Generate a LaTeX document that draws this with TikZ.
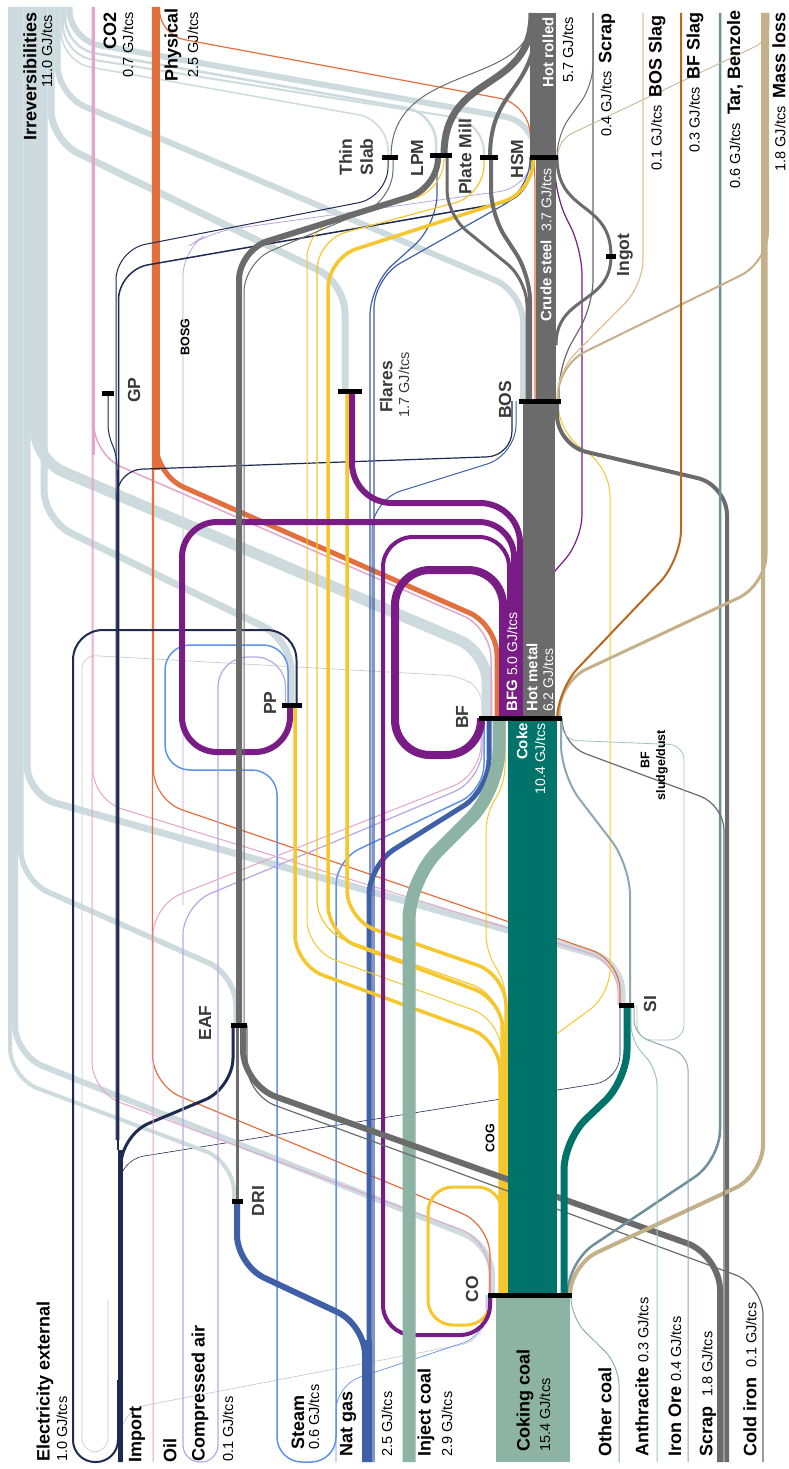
\documentclass[tikz,border=0pt]{standalone}
\usepackage{fontspec}
\setmainfont{Liberation Sans}
\definecolor{irr}{HTML}{CDDBDF}
\definecolor{phys}{HTML}{E2703F}
\definecolor{cotwo}{HTML}{E3A5CC}
\definecolor{navy}{HTML}{1E2A50}
\definecolor{steel}{HTML}{6B6B6B}
\definecolor{bfg}{HTML}{7A1C86}
\definecolor{cog}{HTML}{F5C72C}
\definecolor{ngas}{HTML}{3F5FA7}
\definecolor{steam}{HTML}{5E93E6}
\definecolor{cair}{HTML}{B8A7E3}
\definecolor{coal}{HTML}{8CB3A3}
\definecolor{coke}{HTML}{00736B}
\definecolor{mloss}{HTML}{C4B089}
\definecolor{bfslag}{HTML}{B8691E}
\definecolor{bosslag}{HTML}{DDC193}
\definecolor{tar}{HTML}{6F8F9A}
\definecolor{sinter}{HTML}{8FA7B2}
\definecolor{ocoal}{HTML}{9FC6BB}
\definecolor{lbl}{HTML}{3A3A3A}
\newcommand{\myB}{\fontsize{18}{20}\selectfont\bfseries}
\newcommand{\myV}{\fontsize{14.5}{17}\selectfont\mdseries}
\newcommand{\myP}{\fontsize{17.5}{21}\selectfont\bfseries}
\newcommand{\myW}{\fontsize{15}{17}\selectfont\bfseries}
\newcommand{\myWv}{\fontsize{14}{16}\selectfont\mdseries}
\newcommand{\myC}{\fontsize{12.5}{14}\selectfont\bfseries}
\begin{document}
\begin{tikzpicture}[x=1pt,y=-1pt,
  fl/.style={rounded corners=30pt, line join=round},
  procbar/.style={fill=black, draw=none, inner sep=0pt, minimum height=5pt, minimum width=#1},
  lab/.style={rotate=90, inner sep=0pt},
  plab/.style={rotate=90, inner sep=0pt, text=lbl, font=\myP, align=center},
  faint/.style={draw=gray!45, line width=0.6pt}]
\fill[white] (0,0) rectangle (788,1469);
\useasboundingbox (0,0) rectangle (788,1469);
% ---------- process coordinates
\coordinate (TS) at (390,157);
\coordinate (LPM) at (441,155);
\coordinate (PM) at (489,157);
\coordinate (HSM) at (544,157);
\coordinate (ING) at (611,256);
\coordinate (GP) at (108,393);
\coordinate (FL) at (350,391);
\coordinate (BOS) at (540,401);
\coordinate (PP) at (292,705);
\coordinate (BF) at (520,718);
\coordinate (SI) at (626,1005);
\coordinate (EAF) at (239,1025);
\coordinate (DRI) at (237,1201);
\coordinate (CO) at (530,1295);
% outputs (top)
\coordinate (IRR) at (40,7);
\coordinate (CDO) at (93,7);
\coordinate (PHY) at (156,7);
\coordinate (HR) at (543,13);
\coordinate (SCT) at (593,13);
\coordinate (BOSS) at (643,13);
\coordinate (BFS) at (681,13);
\coordinate (TAR) at (720,13);
\coordinate (ML) at (765,13);
% inputs (bottom)
\coordinate (ELX) at (73,1462);
\coordinate (IMP) at (120,1462);
\coordinate (OIL) at (153,1462);
\coordinate (STM) at (306,1462);
\coordinate (NG) at (367,1462);
\coordinate (INJ) at (409,1462);
\coordinate (OC) at (619,1462);
\coordinate (ANT) at (657,1462);
\coordinate (ORE) at (688,1462);
\coordinate (SCB) at (724,1462);
\coordinate (CI) at (763,1462);

% ---------- faint lines
\draw[fl, faint, rounded corners=14pt] ([xshift=-38pt]BF) -- (482,690) -- (460,676) -- (82,655) -- (82,1452) -- (108,1452) -- (108,1300);
\draw[fl, navy, line width=0.6pt, rounded corners=25pt] (119,1462) -- (119,1160) -- (620,1080) -- ([xshift=-6pt]SI);
\draw[fl, faint, rounded corners=25pt] (121,1462) -- (121,1410) -- (486,1340) -- ([xshift=-44pt]CO);
\draw[fl, steam, line width=0.7pt, rounded corners=25pt] (336,1462) -- (336,1385) -- (487,1335) -- ([xshift=-43pt]CO);
\draw[fl, cair, line width=0.8pt, rounded corners=25pt] (183,905) -- (183,250) -- (210,232) -- (525,188) -- ([xshift=-10pt]HSM);

% ---------- irreversibilities
\begin{scope}[irr]
\draw[fl, line width=6pt] ([xshift=29.5pt]IRR) -- (69.5,40) -- (535,122) -- ([xshift=-9pt]HSM);
\draw[fl, line width=2.5pt] ([xshift=25.25pt]IRR) -- (65.25,48) -- (436,113) -- ([xshift=-5pt]LPM);
\draw[fl, line width=2pt] ([xshift=23pt]IRR) -- (63,55) -- (484,122) -- ([xshift=-5pt]PM);
\draw[fl, line width=1.5pt] ([xshift=21.25pt]IRR) -- (61.25,62) -- (388,120) -- ([xshift=-2pt]TS);
\draw[fl, line width=6pt] ([xshift=17.5pt]IRR) -- (57.5,95) -- (523,292) -- ([xshift=-17pt]BOS);
\draw[fl, line width=7pt] ([xshift=11pt]IRR) -- (51,140) -- (345,283) -- ([xshift=-5pt]FL);
\draw[fl, line width=7pt] ([xshift=4pt]IRR) -- (44,520) -- (291,640) -- ([xshift=-1pt]PP);
\draw[fl, line width=11pt] ([xshift=-4.5pt]IRR) -- (35.5,460) -- (487,652) -- ([xshift=-33pt]BF);
\draw[fl, line width=7pt] ([xshift=-13pt]IRR) -- (27,795) -- (622,962) -- ([xshift=-4pt]SI);
\draw[fl, line width=5.5pt] ([xshift=-19.25pt]IRR) -- (20.75,880) -- (236,975) -- ([xshift=-3pt]EAF);
\draw[fl, line width=6pt] ([xshift=-25pt]IRR) -- (15,1055) -- (492,1245) -- ([xshift=-38pt]CO);
\draw[fl, line width=4pt] ([xshift=-30pt]IRR) -- (10,1078) -- (234,1162) -- ([xshift=-3pt]DRI);
\end{scope}

% ---------- CO2
\draw[cotwo, line width=3pt] (CDO) -- (93,455);
\draw[fl, cotwo, line width=1.5pt] ([xshift=1pt]CDO) -- (94,455) -- (491,628) -- ([xshift=-29pt]BF);
\draw[fl, cotwo, line width=1pt] (CDO) -- (93,800) -- (618,962) -- ([xshift=-8pt]SI);
\draw[fl, cotwo, line width=1pt] ([xshift=-1pt]CDO) -- (92,1092) -- (489,1240) -- ([xshift=-41pt]CO);

% ---------- Physical
\draw[phys, line width=8pt] (PHY) -- (156,470);
\draw[fl, phys, line width=1.2pt, rounded corners=25pt] ([xshift=3.5pt]PHY) -- (159.5,35) -- (525,103) -- (535,160) -- ([xshift=-5pt]BOS);
\draw[fl, phys, line width=5pt] (PHY) -- (156,475) -- (497,625) -- ([xshift=-23pt]BF);
\draw[fl, phys, line width=1.2pt] ([xshift=-2.5pt]PHY) -- (153.5,800) -- (620,960) -- ([xshift=-6pt]SI);
\draw[fl, phys, line width=1.2pt] ([xshift=-3.5pt]PHY) -- (152.5,1085) -- (490,1225) -- ([xshift=-40pt]CO);

% ---------- Electricity / import
\draw[fl, navy, line width=2pt] ([xshift=4.5pt]PP) -- (296.5,630) -- (73,630) -- (73,1400) [rounded corners=22pt] -- (ELX) -- (118,1462) -- (118,1380);
\draw[navy, line width=5pt] (IMP) -- (120,1150);
\draw[navy, line width=2pt] (118,1150) -- (118,470);
\draw[fl, navy, line width=3pt] ([xshift=1pt]IMP) -- (121,1135) -- (233,1088) -- ([xshift=-6pt]EAF);
\draw[fl, navy, line width=1.2pt, rounded corners=25pt] (117,1140) -- (117,470) -- (512,456) -- ([xshift=-28pt]BOS);
\draw[fl, navy, line width=1pt] (116,1140) -- (116,250) -- (388,197) -- ([xshift=-2pt]TS);
\draw[fl, navy, line width=1.5pt] (118.5,1140) -- (118.5,270) -- (531,198) -- ([xshift=-13pt]HSM);
\draw[navy, line width=1pt, rounded corners=10pt] (117,475) -- (117,455) -- (108,435) -- (GP);

% ---------- Steam
\draw[fl, steam, line width=1.5pt, rounded corners=25pt] ([xshift=-4pt]PP) -- (288,645) -- (165,645) -- (165,770) -- (277,770) -- (277,1462) -- (336,1462) -- (336,860) -- (484,790) -- ([xshift=-36pt]BF);

% ---------- Compressed air and oil
\draw[fl, cair, line width=1.2pt] ([xshift=-6.5pt]PP) -- (285.5,657) -- (218,657) -- (218,1400) [rounded corners=17pt] -- (218,1462) -- (183,1462) -- (183,1400) [rounded corners=30pt] -- (183,905) -- (482,780) -- ([xshift=-38pt]BF);
\draw[fl, cotwo, line width=1pt] (OIL) -- (153,905) -- (481,775) -- ([xshift=-39pt]BF);

% ---------- Natural gas
\draw[ngas, line width=10pt] (NG) -- (367,1340);
\draw[fl, ngas, line width=6pt] ([xshift=-2pt]NG) -- (365,1325) -- (237,1265) -- (DRI);
\draw[fl, ngas, line width=5pt] ([xshift=2pt]NG) -- (369,865) -- (489,790) -- ([xshift=-31pt]BF);
\draw[fl, ngas, line width=1.2pt] ([xshift=3pt]NG) -- (370,285) -- (437,225) -- ([xshift=-4pt]LPM);
\draw[fl, ngas, line width=1.2pt] ([xshift=7pt]NG) -- (374,278) -- (530,190) -- ([xshift=-14pt]HSM);
\draw[fl, ngas, line width=1pt] ([xshift=5pt]NG) -- (372,500) -- (516,455) -- ([xshift=-24pt]BOS);

% ---------- COG
\draw[fl, cog, line width=3.5pt] ([xshift=-3pt]FL) -- (347,920) -- (506,975) -- (506,1295);
\draw[fl, cog, line width=3.5pt] ([xshift=-11pt]HSM) -- (533,192) -- (328,258) -- (328,935) -- (503,1000) -- (503,1295);
\draw[fl, cog, line width=1.2pt] ([xshift=-5pt]PM) -- (484,195) -- (317,240) -- (317,930) -- (501,995) -- (501,1295);
\draw[fl, cog, line width=1pt] ([xshift=3pt]LPM) -- (444,190) -- (307,228) -- (307,950) -- (501,1020) -- (501,1295);
\draw[fl, cog, line width=3.5pt] ([xshift=3pt]PP) -- (295,965) -- (500,1040) -- (500,1295);
\draw[fl, cog, line width=1pt, rounded corners=15pt] ([xshift=-15pt]BF) -- (505,782) -- (486,815) -- (486,950) -- (506,985) -- (506,1295);
\draw[fl, cog, line width=3pt, rounded corners=25pt] (502,1295) -- (502,1187) -- (428,1187) -- (428,1325) -- (491,1325) -- ([xshift=-39pt]CO);
\draw[fl, cog, line width=1pt, rounded corners=25pt] (507,1100) -- (507,1070) -- (610,995) -- (610,470) -- (558,430) -- ([xshift=18pt]BOS);
\draw[cog, line width=9pt] ([xshift=-26.5pt]CO) -- (503.5,1100);

% ---------- BFG
\draw[fl, bfg, line width=1.2pt, rounded corners=25pt] ([xshift=1pt]BF) -- (521,610) -- (582,540) -- (582,250) -- (555,195) -- ([xshift=11pt]HSM);
\draw[fl, bfg, line width=6pt, rounded corners=40pt] ([xshift=2pt]FL) -- (352,503) -- (520,503) -- (BF);
\draw[fl, bfg, line width=6pt, rounded corners=35pt] ([xshift=-2pt]PP) -- (290,752) -- (182,752) -- (182,522) -- (514,522) -- ([xshift=-6pt]BF);
\draw[fl, bfg, line width=4pt] ([xshift=-11pt]BF) -- (509,537) -- (383,537) -- (383,1335) -- (490,1335) -- ([xshift=-40pt]CO);
\draw[fl, bfg, line width=8pt, rounded corners=35pt] ([xshift=-17pt]BF) -- (503,570) -- (395,570) -- (395,755) -- (481,755) -- ([xshift=-39pt]BF);

% ---------- Inject coal
\draw[fl, coal, line width=13pt, rounded corners=40pt] (INJ) -- (409,880) -- (499,790) -- ([xshift=-21pt]BF);

% ---------- steel flows
\draw[fl, steel, line width=6pt] (EAF) -- (239,250) -- (438,188) -- ([xshift=-3pt]LPM);
\draw[fl, steel, line width=1pt] ([xshift=3pt]TS) -- (393,200) -- (244,262) -- ([xshift=5pt]EAF);
\draw[fl, steel, line width=6pt, rounded corners=35pt] ([xshift=4pt]EAF) -- (243,1085) -- (720,1255) -- ([xshift=-4pt]SCB);
\draw[fl, steel, line width=4pt] ([xshift=17pt]BOS) -- (557,445) -- (727,485) -- ([xshift=3pt]SCB);
\draw[fl, steel, line width=1.2pt] ([xshift=8pt]EAF) -- (247,1095) -- (763,1285) -- (CI);
\draw[steel, line width=3pt] (DRI) -- ([xshift=-2pt]EAF);
\draw[steel, line width=7pt] ([xshift=3pt]LPM) .. controls (444,70) and (532,95) .. (532,13);
\draw[steel, line width=4pt] ([xshift=1pt]PM) .. controls (490,85) and (537,95) .. (537,13);
\draw[steel, line width=1pt] ([xshift=1pt]TS) .. controls (391,60) and (533,90) .. (533,13);
\draw[fl, steel, line width=4pt, rounded corners=25pt] ([xshift=-10pt]BOS) -- (530,275) -- (491,215) -- ([xshift=2pt]PM);
\draw[fl, steel, line width=3pt, rounded corners=25pt] ([xshift=-13pt]BOS) -- (527,280) -- (447,215) -- ([xshift=6pt]LPM);
\draw[steel, line width=3pt] (556,345) .. controls (556,295) and (611,305) .. (ING);
\draw[steel, line width=3pt] (ING) .. controls (611,200) and (557,215) .. ([xshift=13pt]HSM);
\draw[fl, steel, line width=1.2pt, rounded corners=25pt] ([xshift=19pt]BOS) -- (559,365) -- (593,305) -- (SCT);
\draw[fl, steel, line width=1pt, rounded corners=20pt] ([xshift=13pt]HSM) -- (557,135) -- (593,85) -- (SCT);
\draw[steel, line width=32pt] ([xshift=19pt]BF) -- ([xshift=-1pt]BOS);
\draw[steel, line width=20pt] ([xshift=6pt]BOS) -- ([xshift=2pt]HSM);
\draw[steel, line width=26pt] ([xshift=-1pt]HSM) -- (HR);

% ---------- right hand flows
\draw[fl, tar, line width=2.5pt] ([xshift=38pt]CO) -- (568,1262) -- (720,1160) -- (TAR);
\draw[fl, mloss, line width=4pt] ([xshift=40pt]CO) -- (570,1265) -- (763,1175) -- ([xshift=-2pt]ML);
\draw[fl, mloss, line width=3pt] ([xshift=39pt]BF) -- (559,682) -- (766,585) -- ([xshift=1pt]ML);
\draw[fl, mloss, line width=2pt] ([xshift=18pt]BOS) -- (558,365) -- (768,262) -- ([xshift=3pt]ML);
\draw[fl, mloss, line width=0.8pt, rounded corners=15pt] ([xshift=14pt]HSM) -- (558,140) -- (769,40) -- ([xshift=4pt]ML);
\draw[fl, bfslag, line width=2pt] ([xshift=37pt]BF) -- (557,690) -- (681,560) -- (BFS);
\draw[fl, bosslag, line width=1.2pt, rounded corners=25pt] ([xshift=17pt]BOS) -- (557,372) -- (643,285) -- (BOSS);
\draw[fl, sinter, line width=2pt] ([xshift=4pt]SI) -- (630,865) -- (561,775) -- ([xshift=41pt]BF);
\draw[fl, steel, line width=1.2pt, rounded corners=25pt] ([xshift=42pt]BF) -- (562,745) -- (724,805) -- (SCB);
\draw[fl, ocoal, line width=1pt, rounded corners=15pt] (ANT) -- (657,1070) -- (631,1040) -- ([xshift=5pt]SI);
\draw[fl, sinter, line width=1pt, rounded corners=15pt] (ORE) -- (688,1055) -- (634,1035) -- ([xshift=8pt]SI);
\draw[fl, coal, line width=1pt, rounded corners=20pt] (OC) -- (619,1365) -- (571,1318) -- ([xshift=41pt]CO);
\draw[fl, ocoal, line width=0.8pt, rounded corners=15pt] ([xshift=42pt]BF) -- (562,740) -- (684,745) -- (684,1040) -- (637,1040) -- ([xshift=11pt]SI);
\draw[fl, coke, line width=7pt] ([xshift=34pt]CO) -- (564,1140) -- (627,1080) -- ([xshift=1pt]SI);

% ---------- big bands
\fill[coke] (508,720) rectangle (557,1297);
\fill[coal] (496,1297) rectangle (570,1462);

% ---------- process bars
\node[procbar=16pt] (TSb) at (TS) {};
\node[procbar=22pt] (LPMb) at (LPM) {};
\node[procbar=18pt] (PMb) at (PM) {};
\node[procbar=28pt] (HSMb) at (HSM) {};
\node[procbar=10pt] (INGb) at (ING) {};
\node[procbar=12pt] (GPb) at (GP) {};
\node[procbar=24pt] (FLb) at (FL) {};
\node[procbar=42pt] (BOSb) at (BOS) {};
\node[procbar=20pt] (PPb) at (PP) {};
\node[procbar=83pt] (BFb) at (BF) {};
\node[procbar=15pt] (SIb) at (SI) {};
\node[procbar=16pt] (EAFb) at (EAF) {};
\node[procbar=11pt] (DRIb) at (DRI) {};
\node[procbar=84pt] (COb) at (CO) {};

% ---------- top labels
\node[lab, anchor=east] (tIrr) at (30,12) {\myB Irreversibilities};
\node[lab, anchor=east] (tIrrv) at (47,15) {\myV 11.0 GJ/tcs};
\node[lab, anchor=east] (tCO2) at (110,12) {\myB CO2};
\node[lab, anchor=east] (tCO2v) at (128,12) {\myV 0.7 GJ/tcs};
\node[lab, anchor=east] (tPhy) at (173,8) {\myB Physical};
\node[lab, anchor=east] (tPhyv) at (193,12) {\myV 2.5 GJ/tcs};
\node[lab, anchor=east, text=white] (tHR) at (548,17) {\myW Hot rolled};
\node[lab, anchor=east] (tHRv) at (568,17) {\myV 5.7 GJ/tcs};
\node[lab, anchor=east] (tScr) at (607,13) {\myV 0.4 GJ/tcs\ \ \myB Scrap};
\node[lab, anchor=east] (tBOSS) at (657,15) {\myV 0.1 GJ/tcs\ \ \myB BOS Slag};
\node[lab, anchor=east] (tBFS) at (695,12) {\myV 0.3 GJ/tcs\ \ \myB BF Slag};
\node[lab, anchor=east] (tTar) at (735,10) {\myV 0.6 GJ/tcs\ \ \myB Tar, Benzole};
\node[lab, anchor=east] (tML) at (779,12) {\myV 1.8 GJ/tcs\ \ \myB Mass loss};

% ---------- bottom labels
\node[lab, anchor=west] (bEl) at (45,1462) {\myB Electricity external};
\node[lab, anchor=west] (bElv) at (62,1462) {\myV 1.0 GJ/tcs};
\node[lab, anchor=west] (bImp) at (137,1463) {\myB Import};
\node[lab, anchor=west] (bOil) at (170,1463) {\myB Oil};
\node[lab, anchor=west] (bCA) at (200,1462) {\myB Compressed air};
\node[lab, anchor=west] (bCAv) at (228,1462) {\myV 0.1 GJ/tcs};
\node[lab, anchor=west] (bSt) at (298,1450) {\myB Steam};
\node[lab, anchor=west] (bStv) at (314,1450) {\myV 0.6 GJ/tcs};
\node[lab, anchor=west] (bNG) at (348,1457) {\myB Nat gas};
\node[lab, anchor=west] (bNGv) at (387,1457) {\myV 2.5 GJ/tcs};
\node[lab, anchor=west] (bIC) at (426,1457) {\myB Inject coal};
\node[lab, anchor=west] (bICv) at (447,1457) {\myV 2.9 GJ/tcs};
\node[lab, anchor=west] (bCC) at (525,1452) {\myB Coking coal};
\node[lab, anchor=west] (bCCv) at (545,1452) {\myV 15.4 GJ/tcs};
\node[lab, anchor=west] (bOC) at (605,1457) {\myB Other coal};
\node[lab, anchor=west] (bAn) at (642,1457) {\myB Anthracite\ \myV 0.3 GJ/tcs};
\node[lab, anchor=west] (bOre) at (675,1457) {\myB Iron Ore\ \myV 0.4 GJ/tcs};
\node[lab, anchor=west] (bScr) at (708,1457) {\myB Scrap\ \ \myV 1.8 GJ/tcs};
\node[lab, anchor=west] (bCI) at (750,1457) {\myB Cold iron\ \ \myV 0.1 GJ/tcs};

% ---------- in-band labels
\node[lab, anchor=west, text=white] (iBFG) at (512,712) {\myW BFG\ \myWv 5.0 GJ/tcs};
\node[lab, anchor=west, text=white] (iHM) at (532,712) {\myW Hot metal};
\node[lab, anchor=west, text=white] (iHMv) at (548,712) {\myWv 6.2 GJ/tcs};
\node[lab, anchor=east, text=white] (iCoke) at (522,723) {\myW Coke};
\node[lab, anchor=east, text=white] (iCokev) at (540,723) {\myWv 10.4 GJ/tcs};
\node[lab, anchor=west, text=white] (iCS) at (546,322) {\myW Crude steel\ \ \myWv 3.7 GJ/tcs};

% ---------- process labels
\node[plab] (lTS) at (356,157) {Thin\\Slab};
\node[plab] (lLPM) at (417,158) {LPM};
\node[plab] (lPM) at (465,157) {Plate Mill};
\node[plab] (lHSM) at (517,159) {HSM};
\node[plab] (lING) at (625,255) {Ingot};
\node[plab] (lGP) at (134,390) {GP};
\node[lab, font=\myC] (lBOSG) at (185,337) {BOSG};
\node[plab] (lFL) at (386,387) {Flares};
\node[lab, text=lbl] (lFLv) at (404,385) {\myV 1.7 GJ/tcs};
\node[plab] (lBOS) at (505,400) {BOS};
\node[plab] (lPP) at (270,703) {PP};
\node[plab] (lBF) at (462,717) {BF};
\node[plab] (lSI) at (650,1004) {SI};
\node[plab] (lEAF) at (205,1023) {EAF};
\node[plab] (lDRI) at (258,1201) {DRI};
\node[plab] (lCO) at (472,1289) {CO};
\node[lab, font=\myC] (lCOG) at (490,1138) {COG};
\node[lab, font=\myC] (lBFd) at (645,760) {BF};
\node[lab, font=\myC] (lBFdv) at (662,765) {sludge/dust};
\end{tikzpicture}
\end{document}
